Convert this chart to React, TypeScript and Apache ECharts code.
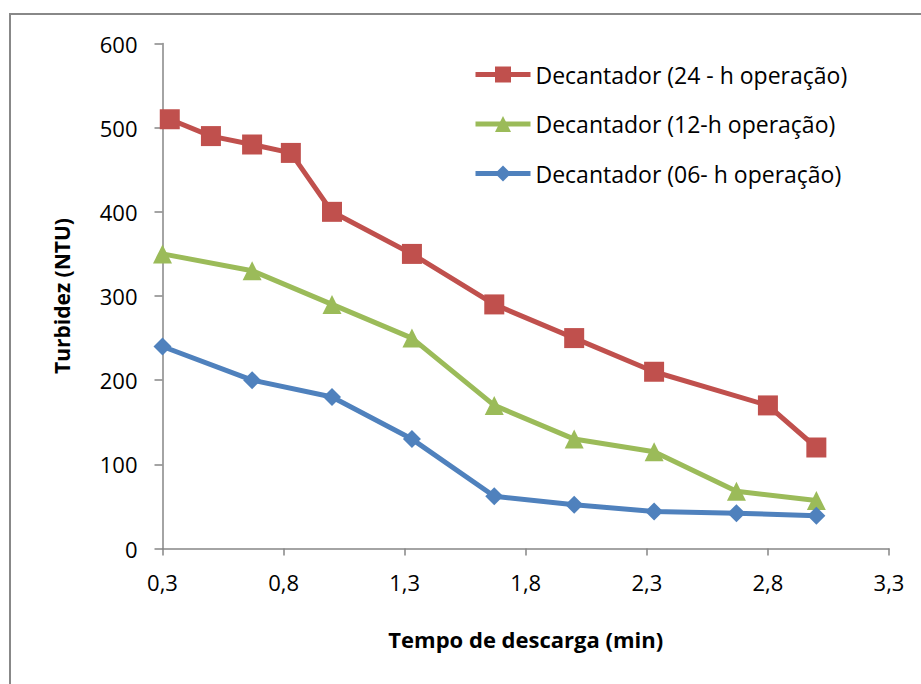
import React, { useEffect, useRef } from "react";
import * as echarts from "echarts";

const seriesNames = [
  "Decantador (24 - h operação)",
  "Decantador (12-h operação)",
  "Decantador (06- h operação)",
];
const redX = [0.33, 0.5, 0.67, 0.83, 1.0, 1.33, 1.67, 2.0, 2.33, 2.8, 3.0];
const redY = [510, 490, 480, 470, 400, 350, 290, 250, 210, 170, 120];
const greenX = [0.3, 0.67, 1.0, 1.33, 1.67, 2.0, 2.33, 2.67, 3.0];
const greenY = [350, 330, 290, 250, 170, 130, 115, 68, 57];
const blueX = [0.3, 0.67, 1.0, 1.33, 1.67, 2.0, 2.33, 2.67, 3.0];
const blueY = [240, 200, 180, 130, 62, 52, 44, 42, 39];
const xTicks = [0.3, 0.8, 1.3, 1.8, 2.3, 2.8, 3.3];
const xAxisTitle = "Tempo de descarga (min)";
const yAxisTitle = "Turbidez (NTU)";

const FONT = "'Open Sans', 'Noto Sans', sans-serif";
const axisColor = "#868686";

function pairs(xs: number[], ys: number[]) {
  return xs.map((x, i) => [x, ys[i]]);
}

export default function App() {
  const ref = useRef<HTMLDivElement>(null);
  useEffect(() => {
    document.body.style.margin = "0";
    const chart = echarts.init(ref.current!, undefined, { renderer: "svg" });
    const mk = (
      name: string,
      data: number[][],
      color: string,
      symbol: string,
      size: number
    ) => ({
      name,
      type: "line",
      data,
      symbol,
      symbolSize: size,
      showSymbol: true,
      lineStyle: { color, width: 5 },
      itemStyle: { color },
      z: 2,
    });
    chart.setOption({
      animation: false,
      textStyle: { fontFamily: FONT },
      graphic: [
        {
          type: "rect",
          shape: { x: 10, y: 14, width: 2000, height: 2000 },
          style: { fill: "none", stroke: "#888888", lineWidth: 2 },
          silent: true,
        },
      ],
      grid: { left: 162.5, right: 32, top: 43.5, bottom: 135.5 },
      legend: {
        orient: "vertical",
        left: 468,
        top: 58,
        itemWidth: 55,
        itemHeight: 20,
        itemGap: 26.5,
        lineStyle: { width: 5 },
        textStyle: {
          fontFamily: FONT,
          fontSize: 23,
          color: "#000",
          lineHeight: 20,
          padding: [0, 0, 0, 0],
        },
        data: seriesNames,
      },
      xAxis: {
        type: "value",
        min: 0.3,
        max: 3.3,
        name: xAxisTitle,
        nameLocation: "middle",
        nameGap: 79,
        nameTextStyle: {
          fontFamily: FONT,
          fontSize: 22,
          fontWeight: "bold",
          color: "#000",
        },
        splitLine: { show: false },
        axisLine: { lineStyle: { color: axisColor, width: 1.5 } },
        axisTick: {
          show: true,
          length: 7,
          customValues: xTicks,
          lineStyle: { color: axisColor, width: 1.5 },
        },
        axisLabel: {
          customValues: xTicks,
          margin: 22,
          fontFamily: FONT,
          fontSize: 22,
          color: "#000",
          formatter: (v: number) => v.toFixed(1).replace(".", ","),
        },
      },
      yAxis: {
        type: "value",
        min: 0,
        max: 600,
        interval: 100,
        name: yAxisTitle,
        nameLocation: "middle",
        nameGap: 90,
        nameTextStyle: {
          fontFamily: FONT,
          fontSize: 21,
          fontWeight: "bold",
          color: "#000",
        },
        splitLine: { show: false },
        axisLine: { show: true, lineStyle: { color: axisColor, width: 1.5 } },
        axisTick: {
          show: true,
          length: 8,
          lineStyle: { color: axisColor, width: 1.5 },
        },
        axisLabel: {
          margin: 25,
          fontFamily: FONT,
          fontSize: 22,
          color: "#000",
        },
      },
      series: [
        mk(seriesNames[0], pairs(redX, redY), "#C0504D", "rect", 20),
        mk(seriesNames[1], pairs(greenX, greenY), "#9BBB59", "triangle", 19),
        mk(seriesNames[2], pairs(blueX, blueY), "#4F81BD", "diamond", 18),
      ],
    });
    return () => chart.dispose();
  }, []);
  return (
    <div
      ref={ref}
      style={{
        position: "fixed",
        left: 0,
        top: 0,
        width: 921,
        height: 684,
        background: "#fff",
      }}
    />
  );
}
